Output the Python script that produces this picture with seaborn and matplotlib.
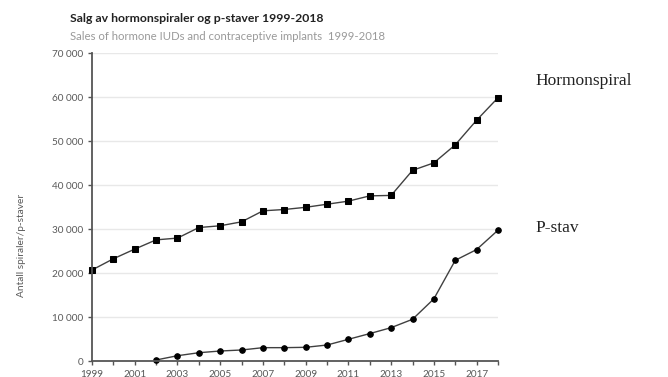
import numpy as np
import pandas as pd
import seaborn as sns
import matplotlib
matplotlib.use("Agg")
import matplotlib.pyplot as plt
from matplotlib.ticker import FuncFormatter, MultipleLocator

years = list(range(1999, 2019))
hormonspiral = [20750, 23300, 25500, 27600, 28000, 30400, 30800, 31700, 34200, 34500,
                35000, 35700, 36400, 37600, 37700, 43400, 45100, 49200, 54800, 59900]
p_stav = [np.nan, np.nan, np.nan, 300, 1270, 1950, 2340, 2570, 3100, 3100,
          3180, 3700, 5000, 6300, 7650, 9550, 14200, 22950, 25400, 29800]
series_names = ["Hormonspiral", "P-stav"]
title = "Salg av hormonspiraler og p-staver 1999-2018"
subtitle = "Sales of hormone IUDs and contraceptive implants  1999-2018"
ylabel = "Antall spiraler/p-staver"

df = pd.DataFrame({
    "year": years * 2,
    "value": hormonspiral + p_stav,
    "series": [series_names[0]] * len(years) + [series_names[1]] * len(years),
})

sns.set_theme(style="white")
plt.rcParams["font.family"] = ["Lato", "DejaVu Sans"]

W, H = 668, 377
fig = plt.figure(figsize=(W / 100, H / 100), dpi=100)
ax = fig.add_axes([92 / W, (H - 361.3) / H, (498 - 92) / W, (361.3 - 53.3) / H])

sns.lineplot(data=df, x="year", y="value", hue="series", style="series",
             markers={"Hormonspiral": "s", "P-stav": "o"}, dashes=False,
             palette={"Hormonspiral": "#404040", "P-stav": "#404040"},
             linewidth=1.0, markersize=4.0, legend=False, ax=ax)
for line in ax.lines:
    line.set_markerfacecolor("black")
    line.set_markeredgecolor("black")
    line.set_clip_on(False)

ax.set_xlim(1999, 2018)
ax.set_ylim(0, 70000)
ax.xaxis.set_major_locator(MultipleLocator(1))
ax.yaxis.set_major_locator(MultipleLocator(10000))
ax.xaxis.set_major_formatter(FuncFormatter(lambda v, p: f"{int(round(v))}" if int(round(v)) % 2 == 1 else ""))
ax.yaxis.set_major_formatter(FuncFormatter(lambda v, p: f"{v:,.0f}".replace(",", " ")))
ax.set_xlabel("")
ax.set_ylabel("")

ax.grid(axis="y", color="#e8e8e8", linewidth=1.0)
ax.grid(axis="x", visible=False)
ax.set_axisbelow(True)
for s in ["top", "right"]:
    ax.spines[s].set_visible(False)
for s in ["left", "bottom"]:
    ax.spines[s].set_color("#555555")
    ax.spines[s].set_linewidth(1.3)
ax.tick_params(axis="both", which="major", direction="out", length=3, width=1.0,
               color="#555555", labelsize=7.2, labelcolor="#595959", pad=3,
               bottom=True, left=True)

fig.text(70 / W, 1 - 19 / H, title, fontsize=8.8, fontweight="bold", color="#222222",
         va="center", ha="left")
fig.text(70 / W, 1 - 36 / H, subtitle, fontsize=8.2, color="#9a9a9a", va="center", ha="left")
fig.text(22 / W, 1 - 245 / H, ylabel, fontsize=7.3, color="#595959", rotation=90,
         va="center", ha="center")
fig.text(535 / W, 1 - 81 / H, series_names[0], fontsize=12.5, family=["Liberation Serif"],
         color="#222222", va="center", ha="left")
fig.text(535 / W, 1 - 228 / H, series_names[1], fontsize=12.5, family=["Liberation Serif"],
         color="#222222", va="center", ha="left")

fig.savefig("out.png", dpi=100)
